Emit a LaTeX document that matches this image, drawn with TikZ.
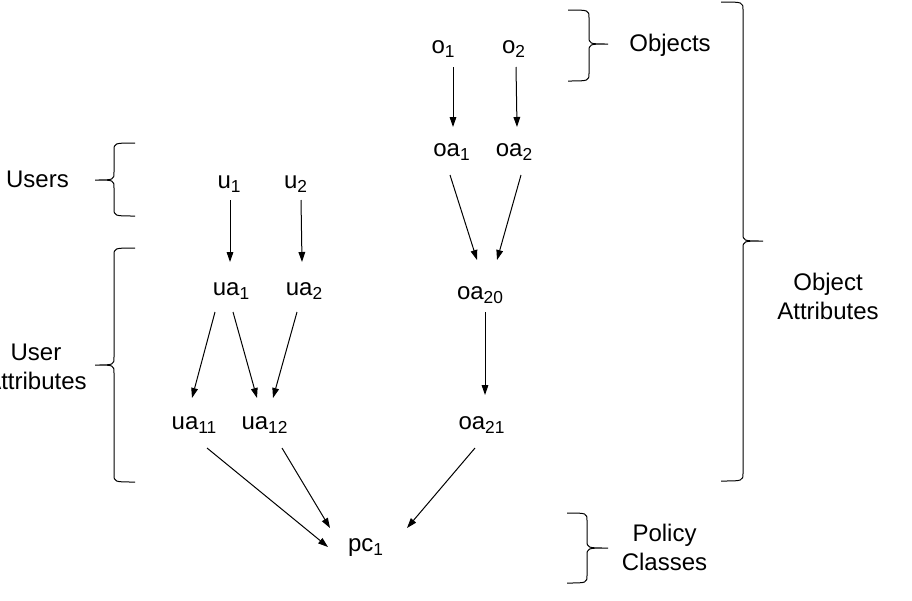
\documentclass[tikz,border=0pt]{standalone}
\usepackage{fontspec}
\setmainfont{Liberation Sans}
\usetikzlibrary{arrows.meta,calc}
\newcommand\sbs[1]{\raisebox{-3pt}{\fontsize{13}{14}\selectfont #1}}
\newcommand\bracer[6]{% x-end, x-vert, x-tip, y-top, y-mid, y-bot
  \draw[brc] (#1,#4) .. controls (#2,#4) .. (#2,#4+8) -- (#2,#5-8)
    .. controls (#2,#5) .. (#3,#5) .. controls (#2,#5) .. (#2,#5+8)
    -- (#2,#6-8) .. controls (#2,#6) .. (#1,#6);}
\tikzset{
  lbl/.style={inner sep=0pt, font=\fontsize{18}{21.75}\selectfont},
  arr/.style={line width=0.75pt, -{Triangle[length=7.5pt,width=5pt]}},
  brc/.style={line width=0.75pt},
}
\begin{document}
\begin{tikzpicture}[x=0.75pt,y=-0.75pt]
\useasboundingbox[fill=white] (0,0) rectangle (912,600);
% nodes
\node[lbl,anchor=base] (o1) at (443,53) {o\sbs{1}};
\node[lbl,anchor=base] (o2) at (513.5,53) {o\sbs{2}};
\node[lbl,anchor=base] (oa1) at (451.5,156) {oa\sbs{1}};
\node[lbl,anchor=base] (oa2) at (514,156) {oa\sbs{2}};
\node[lbl,anchor=base] (u1) at (229,188) {u\sbs{1}};
\node[lbl,anchor=base] (u2) at (295.5,188) {u\sbs{2}};
\node[lbl,anchor=base] (ua1) at (231,295) {ua\sbs{1}};
\node[lbl,anchor=base] (ua2) at (304,295) {ua\sbs{2}};
\node[lbl,anchor=base] (oa20) at (480,299) {oa\sbs{20}};
\node[lbl,anchor=base] (ua11) at (194,429) {ua\sbs{11}};
\node[lbl,anchor=base] (ua12) at (264.5,429) {ua\sbs{12}};
\node[lbl,anchor=base] (oa21) at (481.5,429) {oa\sbs{21}};
\node[lbl,anchor=base] (pc1) at (365.5,551) {pc\sbs{1}};
% group labels
\node[lbl,anchor=base] (lobj) at (670,51) {Objects};
\node[lbl,align=center] (loa) at (828,296.3) {Object\\Attributes};
\node[lbl,align=center] (lpc) at (664.5,547) {Policy\\Classes};
\node[lbl,anchor=base] (lusr) at (37.5,187) {Users};
\node[lbl,align=center] (lua) at (36,366.5) {User\\Attributes};
% connectors
\draw[arr] ($(o1.base)+(10,14)$) -- ($(oa1.base)+(1.5,-29)$);
\draw[arr] ($(o2.base)+(2.5,14)$) -- ($(oa2.base)+(3,-29)$);
\draw[arr] ($(oa1.base)+(-1.5,19)$) -- ($(oa20.base)+(-3,-39)$);
\draw[arr] ($(oa2.base)+(7,19)$) -- ($(oa20.base)+(17,-39)$);
\draw[arr] ($(u1.base)+(1,12)$) -- ($(ua1.base)+(-1,-33)$);
\draw[arr] ($(u2.base)+(5.5,12)$) -- ($(ua2.base)+(-2,-33)$);
\draw[arr] ($(ua1.base)+(-16,17)$) -- ($(ua11.base)+(-2,-31)$);
\draw[arr] ($(ua1.base)+(2,17)$) -- ($(ua12.base)+(-7.5,-31)$);
\draw[arr] ($(ua2.base)+(-7,17)$) -- ($(ua12.base)+(8.5,-31)$);
\draw[arr] ($(oa20.base)+(5,13)$) -- ($(oa21.base)+(3.5,-34)$);
\draw[arr] ($(ua11.base)+(13,19)$) -- ($(pc1.base)+(-37.5,-4)$);
\draw[arr] ($(ua12.base)+(17.5,19)$) -- ($(pc1.base)+(-35.5,-23)$);
\draw[arr] ($(oa21.base)+(-6.5,19)$) -- ($(pc1.base)+(41.5,-23)$);
% braces
\bracer{568}{589}{608}{10}{44}{81}
\bracer{721}{743}{763}{2}{241}{481}
\bracer{567}{587}{608}{513}{548}{583}
\bracer{135}{114}{95}{143}{180}{216}
\bracer{135}{114}{95}{248}{365}{482}
\end{tikzpicture}
\end{document}
